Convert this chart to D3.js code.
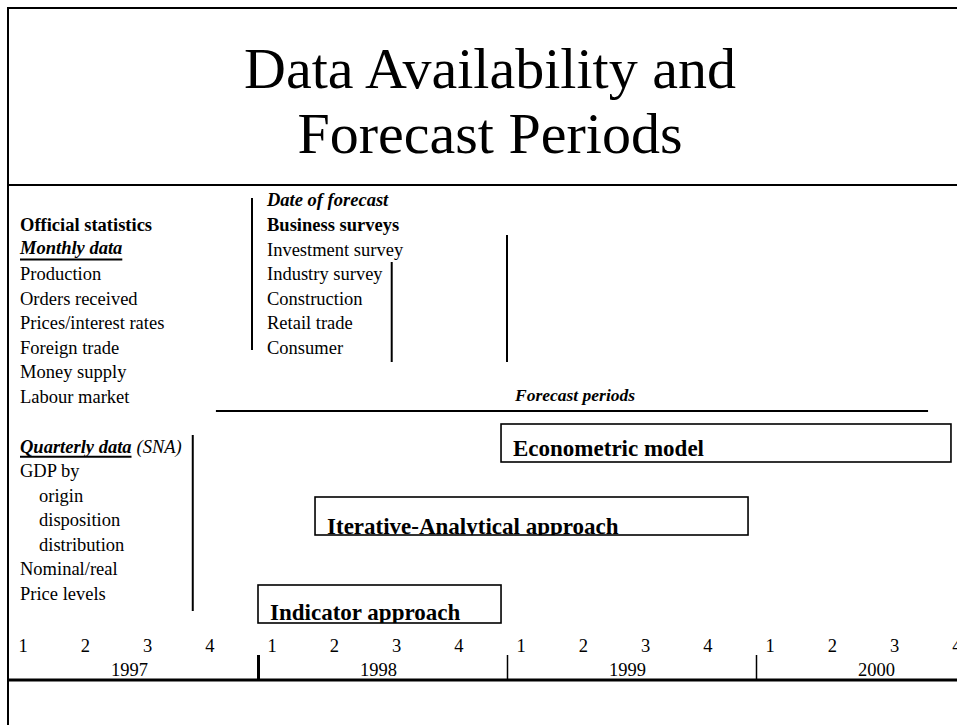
<!DOCTYPE html>
<html>
<head>
<meta charset="utf-8">
<script src="https://cdn.jsdelivr.net/npm/d3@7"></script>
<style>
  body { margin: 0; background: #fff; }
  text { font-family: "Liberation Serif", "Times New Roman", serif; fill: #000; }
</style>
</head>
<body>
<div id="chart-area"></div>
<script>
// Data
var titleLines = ["Data Availability and", "Forecast Periods"];
var years = [1997, 1998, 1999, 2000];
var quarters = [1, 2, 3, 4];
var yearTicks = [1998, 1999, 2000];

var monthlyItems = ["Production", "Orders received", "Prices/interest rates",
  "Foreign trade", "Money supply", "Labour market"];
var surveyItems = ["Investment survey", "Industry survey", "Construction",
  "Retail trade", "Consumer"];
var quarterlyItems = ["GDP by", "origin", "disposition", "distribution",
  "Nominal/real", "Price levels"];
var quarterlyIndent = [0, 1, 1, 1, 0, 0];

// forecast methods, spans in years
var methods = ["Econometric model", "Iterative-Analytical approach", "Indicator approach"];
var methodStart = [1998.976, 1998.229, 1998.0];
var methodEnd = [2000.783, 1999.968, 1998.976];

// data availability markers (time)
var dateOfForecast = 1997.976;
var industryAvail = 1998.537;
var investmentAvail = 1999.0;
var quarterlyAvail = 1997.738;
var forecastSpan = [1997.831, 2000.691];

var width = 957, height = 725;

var svg = d3.select("#chart-area").append("svg")
  .attr("width", width)
  .attr("height", height);

// Scales
var x = d3.scaleLinear().domain([1997, 2001]).range([9, 1005]);
var rowY = d3.scaleLinear().domain([0, 7]).range([231, 402.7]);
var qRowY = d3.scaleLinear().domain([0, 6]).range([452.7, 600]);
var boxTop = d3.scaleOrdinal().domain(methods).range([424, 497, 585]);
var boxH = 38;

// Frame
svg.append("line").attr("x1", 8).attr("x2", 8).attr("y1", 7).attr("y2", height)
  .attr("stroke", "#000").attr("stroke-width", 2);
svg.append("line").attr("x1", 7).attr("x2", width).attr("y1", 8).attr("y2", 8)
  .attr("stroke", "#000").attr("stroke-width", 2);
svg.append("line").attr("x1", 8).attr("x2", width).attr("y1", 185).attr("y2", 185)
  .attr("stroke", "#000").attr("stroke-width", 2);

// Title
svg.selectAll(".title").data(titleLines).enter().append("text")
  .attr("class", "title")
  .attr("x", 490)
  .attr("y", function(d, i) { return 88 + i * 65; })
  .attr("text-anchor", "middle")
  .attr("font-size", "58px")
  .text(function(d) { return d; });

var fs = "18.5px";

// Left column: monthly
svg.append("text").attr("x", 20).attr("y", rowY(0))
  .attr("font-size", fs).attr("font-weight", "bold")
  .text("Official statistics");

var monthlyHead = svg.append("text").attr("x", 20).attr("y", rowY(1) - 2)
  .attr("font-size", fs).attr("font-weight", "bold").attr("font-style", "italic")
  .text("Monthly data");
svg.append("line").attr("x1", 20).attr("x2", 20 + monthlyHead.node().getComputedTextLength())
  .attr("y1", rowY(1) + 4).attr("y2", rowY(1) + 4)
  .attr("stroke", "#000").attr("stroke-width", 2);

svg.selectAll(".monthly").data(monthlyItems).enter().append("text")
  .attr("class", "monthly")
  .attr("x", 20)
  .attr("y", function(d, i) { return rowY(i + 2); })
  .attr("font-size", fs)
  .text(function(d) { return d; });

// Middle column: surveys
svg.append("text").attr("x", 267).attr("y", rowY(-1))
  .attr("font-size", fs).attr("font-weight", "bold").attr("font-style", "italic")
  .text("Date of forecast");
svg.append("text").attr("x", 267).attr("y", rowY(0))
  .attr("font-size", fs).attr("font-weight", "bold")
  .text("Business surveys");
svg.selectAll(".survey").data(surveyItems).enter().append("text")
  .attr("class", "survey")
  .attr("x", 267)
  .attr("y", function(d, i) { return rowY(i + 1); })
  .attr("font-size", fs)
  .text(function(d) { return d; });

// Availability lines
var vlines = [
  { t: dateOfForecast, y1: 198, y2: 350 },
  { t: industryAvail, y1: 262, y2: 362 },
  { t: investmentAvail, y1: 235, y2: 362 },
  { t: quarterlyAvail, y1: 435, y2: 611 }
];
svg.selectAll(".vline").data(vlines).enter().append("line")
  .attr("class", "vline")
  .attr("x1", function(d) { return x(d.t); })
  .attr("x2", function(d) { return x(d.t); })
  .attr("y1", function(d) { return d.y1; })
  .attr("y2", function(d) { return d.y2; })
  .attr("stroke", "#000").attr("stroke-width", 2);

// Forecast periods
svg.append("line")
  .attr("x1", x(forecastSpan[0])).attr("x2", x(forecastSpan[1]))
  .attr("y1", 411).attr("y2", 411)
  .attr("stroke", "#000").attr("stroke-width", 2);
svg.append("text").attr("x", 515).attr("y", 401)
  .attr("font-size", "17.5px").attr("font-weight", "bold").attr("font-style", "italic")
  .text("Forecast periods");

// Quarterly column
var qHead = svg.append("text").attr("x", 20).attr("y", qRowY(0))
  .attr("font-size", fs);
qHead.append("tspan").attr("font-weight", "bold").attr("font-style", "italic")
  .text("Quarterly data");
qHead.append("tspan").attr("font-style", "italic").attr("dx", 5).text("(SNA)");
var qLen = qHead.select("tspan").node().getComputedTextLength();
svg.append("line").attr("x1", 20).attr("x2", 20 + qLen)
  .attr("y1", qRowY(0) + 4).attr("y2", qRowY(0) + 4)
  .attr("stroke", "#000").attr("stroke-width", 2);

svg.selectAll(".quarterly").data(quarterlyItems).enter().append("text")
  .attr("class", "quarterly")
  .attr("x", function(d, i) { return 20 + quarterlyIndent[i] * 19; })
  .attr("y", function(d, i) { return qRowY(i + 1); })
  .attr("font-size", fs)
  .text(function(d) { return d; });

// Method boxes (label clipped at the box edge like the original slide)
var defs = svg.append("defs");
methods.forEach(function(m, i) {
  defs.append("clipPath").attr("id", "clip" + i)
    .append("rect")
    .attr("x", x(methodStart[i]))
    .attr("y", boxTop(m))
    .attr("width", x(methodEnd[i]) - x(methodStart[i]))
    .attr("height", boxH);
});

var boxes = svg.selectAll(".method").data(methods).enter().append("g")
  .attr("class", "method");
boxes.append("rect")
  .attr("x", function(d, i) { return x(methodStart[i]); })
  .attr("y", function(d) { return boxTop(d); })
  .attr("width", function(d, i) { return x(methodEnd[i]) - x(methodStart[i]); })
  .attr("height", boxH)
  .attr("fill", "#fff")
  .attr("stroke", "#000").attr("stroke-width", 1.6);
boxes.append("text")
  .attr("clip-path", function(d, i) { return "url(#clip" + i + ")"; })
  .attr("x", function(d, i) { return x(methodStart[i]) + 12; })
  .attr("y", function(d, i) { return boxTop(d) + [32, 37, 35][i]; })
  .attr("font-size", "23px").attr("font-weight", "bold")
  .text(function(d) { return d; });

// Time axis
var axisY = 680;
var yearAxis = d3.axisTop(x).tickValues(yearTicks).tickSize(25).tickFormat("");
var axisG = svg.append("g")
  .attr("transform", "translate(0," + axisY + ")")
  .call(yearAxis);
axisG.select(".domain").remove();
axisG.selectAll(".tick line")
  .attr("stroke", "#000")
  .attr("stroke-width", function(d) { return d === 1998 ? 3 : 1.5; });

svg.append("line").attr("x1", 8).attr("x2", width).attr("y1", axisY).attr("y2", axisY)
  .attr("stroke", "#000").attr("stroke-width", 3);

var qData = [];
years.forEach(function(yr) {
  quarters.forEach(function(q) { qData.push({ year: yr, q: q }); });
});
svg.selectAll(".qlabel").data(qData).enter().append("text")
  .attr("class", "qlabel")
  .attr("x", function(d) { return x(d.year + (d.q - 1) / 4) + 14; })
  .attr("y", 652)
  .attr("text-anchor", "middle")
  .attr("font-size", fs)
  .text(function(d) { return d.q; });

svg.selectAll(".ylabel").data(years).enter().append("text")
  .attr("class", "ylabel")
  .attr("x", function(d) { return x(d + 0.5) - 4; })
  .attr("y", 676)
  .attr("text-anchor", "middle")
  .attr("font-size", fs)
  .text(function(d) { return d; });
</script>
</body>
</html>
